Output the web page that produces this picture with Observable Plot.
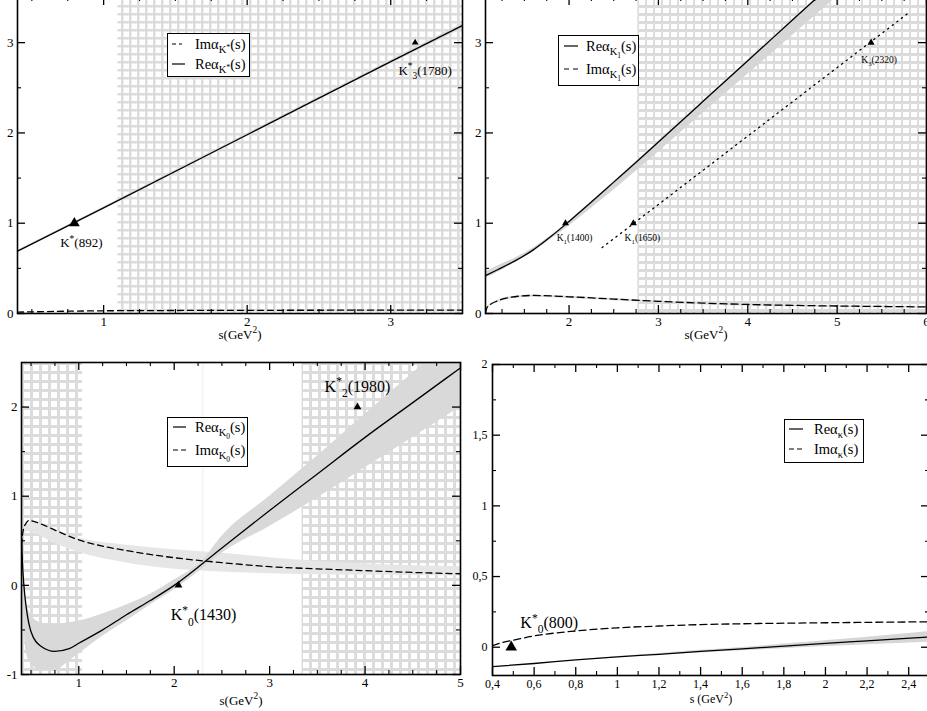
<!DOCTYPE html>
<html><head><meta charset="utf-8">
<script src="https://cdn.jsdelivr.net/npm/d3@7"></script>
<script src="https://cdn.jsdelivr.net/npm/@observablehq/plot@0.6"></script>
<style>
html,body{margin:0;padding:0;background:#fff;}
#wrap{position:relative;width:927px;height:711px;overflow:hidden;background:#fff;font-family:"Liberation Serif","DejaVu Serif",serif;}
.lg{position:absolute;border:1px solid #000;background:#fff;box-sizing:border-box;font-size:14.5px;color:#000;font-family:"Liberation Serif","DejaVu Serif",serif;}
.lg .row{position:absolute;left:0;right:0;height:16px;white-space:nowrap;}
.lg .row svg{position:absolute;top:7px;}
.lg .row span{position:absolute;top:0;line-height:16px;}
sub{font-size:0.72em;vertical-align:-0.35em;line-height:0;}
sup{font-size:0.75em;vertical-align:0.35em;line-height:0;}
</style></head>
<body><div id="wrap"></div>
<script>
// ---------- Panel 1: K* trajectory ----------
const p1S    = [0.4, 1.0, 2.0, 3.0, 3.5];
const p1Re   = [0.69, 1.17, 1.98, 2.79, 3.19];
const p1ReLo = [0.68, 1.155, 1.96, 2.765, 3.155];
const p1ReHi = [0.70, 1.18, 1.995, 2.805, 3.21];
const p1Im   = [0.015, 0.03, 0.035, 0.037, 0.038];
const p1HatchFrom = [1.1], p1HatchTo = [3.5];
const p1ResName = ["K^*(892)", "K^*_3(1780)"];
const p1ResS = [0.796, 3.17];
const p1ResA = [1, 3];

// ---------- Panel 2: K1 trajectory ----------
const p2ReS  = [1.065, 1.2, 1.4, 1.6, 1.8, 2.0, 2.25, 2.5, 2.75, 3.0, 3.5, 4.0, 4.5, 5.0];
const p2Re   = [0.42, 0.485, 0.585, 0.705, 0.855, 1.02, 1.235, 1.455, 1.675, 1.90, 2.35, 2.80, 3.25, 3.70];
const p2ReLo = [0.39, 0.455, 0.565, 0.685, 0.825, 0.97, 1.165, 1.365, 1.575, 1.79, 2.22, 2.65, 3.08, 3.51];
const p2ReHi = [0.46, 0.525, 0.615, 0.725, 0.865, 1.025, 1.24, 1.46, 1.68, 1.905, 2.355, 2.805, 3.255, 3.705];
const p2ImS  = [1.065, 1.08, 1.12, 1.2, 1.35, 1.6, 2.0, 2.5, 3.0, 3.5, 4.0, 4.5, 5.0, 5.5, 6.0];
const p2Im   = [0, 0.06, 0.10, 0.14, 0.18, 0.20, 0.185, 0.16, 0.135, 0.115, 0.10, 0.09, 0.083, 0.078, 0.073];
const p2ImLo = [0, 0.05, 0.085, 0.12, 0.16, 0.18, 0.165, 0.14, 0.115, 0.095, 0.082, 0.072, 0.066, 0.062, 0.058];
const p2ImHi = [0, 0.065, 0.105, 0.145, 0.185, 0.205, 0.19, 0.165, 0.14, 0.12, 0.105, 0.095, 0.088, 0.082, 0.077];
const p2TrajS = [2.37, 5.8];
const p2TrajA = [0.73, 3.33];
const p2HatchFrom = [2.77], p2HatchTo = [6];
const p2ResName = ["K_1(1400)", "K_1(1650)", "K_3(2320)"];
const p2ResS = [1.96, 2.72, 5.38];
const p2ResA = [1, 1, 3];

// ---------- Panel 3: K0 trajectory ----------
const p3ReS = [0.40, 0.41, 0.425, 0.45, 0.5, 0.6, 0.75, 0.9, 1.0, 1.25, 1.5, 1.75, 2.0, 2.5, 3.0, 3.5, 4.0, 4.5, 5.0];
const p3Re  = [0.55, 0.25, 0.0, -0.25, -0.52, -0.68, -0.74, -0.71, -0.65, -0.5, -0.33, -0.17, 0.0, 0.42, 0.84, 1.25, 1.66, 2.05, 2.44];
const p3ReBandS = [0.41, 0.45, 0.5, 0.6, 0.75, 0.9, 1.0, 1.25, 1.5, 1.75, 2.0, 2.3, 2.5, 3.0, 3.5, 4.0, 4.5, 5.0];
const p3ReLo = [-0.2, -0.75, -0.88, -0.95, -0.95, -0.85, -0.77, -0.57, -0.40, -0.22, -0.05, 0.19, 0.36, 0.66, 0.98, 1.32, 1.66, 2.0];
const p3ReHi = [0.3, -0.2, -0.33, -0.42, -0.44, -0.42, -0.40, -0.32, -0.22, -0.1, 0.06, 0.28, 0.55, 1.0, 1.45, 1.92, 2.38, 2.85];
const p3ImS = [0.40, 0.42, 0.45, 0.48, 0.52, 0.6, 0.75, 1.0, 1.25, 1.5, 2.0, 2.5, 3.0, 3.5, 4.0, 4.5, 5.0];
const p3Im  = [0.45, 0.63, 0.70, 0.73, 0.72, 0.69, 0.62, 0.51, 0.44, 0.39, 0.31, 0.255, 0.21, 0.185, 0.165, 0.145, 0.13];
const p3ImBandS = [0.42, 0.45, 0.5, 0.6, 0.75, 1.0, 1.5, 2.0, 2.5, 3.0, 3.5, 4.0, 4.5, 5.0];
const p3ImLo = [0.55, 0.6, 0.6, 0.55, 0.47, 0.37, 0.25, 0.18, 0.15, 0.13, 0.12, 0.115, 0.11, 0.105];
const p3ImHi = [0.62, 0.66, 0.7, 0.68, 0.62, 0.53, 0.45, 0.40, 0.36, 0.31, 0.27, 0.24, 0.22, 0.21];
const p3HatchFrom = [0.4, 3.34], p3HatchTo = [1.04, 5];
const p3Faint = [2.3];
const p3ResName = ["K^*_0(1430)", "K^*_2(1980)"];
const p3ResS = [2.045, 3.92];
const p3ResA = [0, 2];

// ---------- Panel 4: kappa trajectory ----------
const p4ReS  = [0.4, 0.6, 0.8, 1.0, 1.2, 1.4, 1.6, 1.8, 2.0, 2.2, 2.5];
const p4Re   = [-0.137, -0.115, -0.09, -0.068, -0.05, -0.03, -0.012, 0.008, 0.027, 0.045, 0.072];
const p4ReLo = [-0.137, -0.115, -0.09, -0.069, -0.055, -0.04, -0.025, -0.01, 0.005, 0.018, 0.035];
const p4ReHi = [-0.137, -0.115, -0.09, -0.066, -0.045, -0.022, -0.002, 0.022, 0.045, 0.07, 0.11];
const p4ImS  = [0.4, 0.45, 0.5, 0.6, 0.8, 1.0, 1.2, 1.4, 1.6, 1.8, 2.0, 2.2, 2.5];
const p4Im   = [0.012, 0.035, 0.05, 0.08, 0.115, 0.137, 0.15, 0.16, 0.166, 0.17, 0.173, 0.176, 0.18];
const p4ResName = ["K^*_0(800)"];
const p4ResS = [0.49];
const p4ResA = [0];

// ---------- helpers ----------
const NS = "http://www.w3.org/2000/svg";
const wrap = document.getElementById("wrap");
const idx = a => d3.range(a.length);

function richify(svg){
  svg.querySelectorAll("text").forEach(el => {
    const s = el.textContent;
    if (!/[\^_]/.test(s)) return;
    const fs = parseFloat(getComputedStyle(el).fontSize) || 13;
    const parts = []; let i = 0;
    while (i < s.length) {
      const c = s[i];
      if (c === "^" || c === "_") {
        i++; let t;
        if (s[i] === "{") { const j = s.indexOf("}", i); t = s.slice(i+1, j); i = j+1; }
        else { t = s[i]; i++; }
        parts.push({t, k: c === "^" ? "sup" : "sub"});
      } else {
        let j = i; while (j < s.length && s[j] !== "^" && s[j] !== "_") j++;
        parts.push({t: s.slice(i, j), k: null}); i = j;
      }
    }
    el.textContent = "";
    let cur = 0;
    for (const p of parts) {
      const ts = document.createElementNS(NS, "tspan");
      const target = p.k === "sup" ? -0.42*fs : p.k === "sub" ? 0.32*fs : 0;
      if (target !== cur) ts.setAttribute("dy", (target-cur).toFixed(2));
      if (p.k) ts.setAttribute("font-size", (0.72*fs).toFixed(1));
      ts.textContent = p.t;
      el.appendChild(ts); cur = target;
    }
  });
}

function band(S, lo, hi, fill){
  return Plot.areaY(idx(S), {x: i=>S[i], y1: i=>lo[i], y2: i=>hi[i], fill, curve: "monotone-x", clip: true});
}
function curveLine(S, V, dash){
  return Plot.line(idx(S), {x: i=>S[i], y: i=>V[i], stroke: "#000", strokeWidth: 1.3, strokeDasharray: dash, curve: "monotone-x", clip: true});
}
function tri(S, A, which, r){
  return Plot.dot(which, {x: i=>S[i], y: i=>A[i], symbol: "triangle", r, fill: "#000", stroke: "none"});
}
function label(S, A, N, i, dx, dy, fs){
  return Plot.text([i], {x: j=>S[j], y: j=>A[j], text: j=>N[j], dx, dy, fontSize: fs, fill: "#000"});
}

function panel(c){
  const ml = 40, mr = 12, mt = 12, mb = 42;
  const [x0, x1, y0, y1] = c.box;
  const fw = x1 - x0, fh = y1 - y0;
  const W = fw + ml + mr, H = fh + mt + mb;
  const T = 8, t = 4;
  const marks = [];
  if (c.hatch) {
    const [from, to] = c.hatch;
    marks.push(Plot.rect(idx(from), {x1: i=>from[i], x2: i=>to[i], y1: c.y[0], y2: c.y[1], fill: `url(#${c.id})`}));
  }
  marks.push(...c.marks);
  marks.push(
    Plot.frame({stroke: "#000", strokeWidth: 1.6}),
    Plot.tickX(c.xMajor, {x: d=>d, insetTop: fh-T, strokeWidth: 1.3}),
    Plot.tickX(c.xMajor, {x: d=>d, insetBottom: fh-T, strokeWidth: 1.3}),
    Plot.tickX(c.xMinor, {x: d=>d, insetTop: fh-t, strokeWidth: 1.1}),
    Plot.tickX(c.xMinor, {x: d=>d, insetBottom: fh-t, strokeWidth: 1.1}),
    Plot.tickY(c.yMajor, {y: d=>d, insetRight: fw-T, strokeWidth: 1.3}),
    Plot.tickY(c.yMajor, {y: d=>d, insetLeft: fw-T, strokeWidth: 1.3}),
    Plot.tickY(c.yMinor, {y: d=>d, insetRight: fw-t, strokeWidth: 1.1}),
    Plot.tickY(c.yMinor, {y: d=>d, insetLeft: fw-t, strokeWidth: 1.1}),
    Plot.axisX({ticks: c.xMajor, tickSize: 0, tickPadding: c.padX, fontSize: c.fs, tickFormat: c.fmt, label: null}),
    Plot.axisY({ticks: c.yMajor, tickSize: 0, tickPadding: c.padY, fontSize: c.fs, tickFormat: c.fmt, label: null}),
    Plot.text([c.xLabel], {frameAnchor: "bottom", lineAnchor: "middle", text: d=>d, dy: c.labelDy, fontSize: c.labelFs, fill: "#000"})
  );
  const svg = Plot.plot({
    width: W, height: H, marginLeft: ml, marginRight: mr, marginTop: mt, marginBottom: mb,
    x: {domain: c.x}, y: {domain: c.y},
    style: "background:transparent;font-family:'Liberation Serif','DejaVu Serif',serif;color:#000;overflow:visible;max-width:none;",
    marks
  });
  if (c.hatch) {
    const p = c.pitch, hh = c.hh, vw = c.vw;
    const defs = document.createElementNS(NS, "defs");
    defs.innerHTML = `<pattern id="${c.id}" patternUnits="userSpaceOnUse" width="${p}" height="${p}" x="${ml}" y="${mt}">
      <rect width="${p}" height="${p}" fill="#ffffff"/>
      <rect width="${p}" height="${hh}" fill="#dcdcdc"/>
      <rect width="${vw}" height="${p}" fill="#dcdcdc"/></pattern>`;
    svg.insertBefore(defs, svg.firstChild);
  }
  svg.style.position = "absolute";
  svg.style.left = (x0 - ml) + "px";
  svg.style.top = (y0 - mt) + "px";
  wrap.appendChild(svg);
  richify(svg);
  return svg;
}

function legend(left, top, w, h, rows){
  const d = document.createElement("div");
  d.className = "lg";
  Object.assign(d.style, {left: left+"px", top: top+"px", width: w+"px", height: h+"px"});
  for (const r of rows) {
    const row = document.createElement("div");
    row.className = "row";
    row.style.top = (r.cy - 8) + "px";
    row.innerHTML = `<svg width="30" height="4" style="left:${r.lx}px;top:6px"><line x1="0" x2="${r.lw}" y1="2" y2="2" stroke="#000" stroke-width="1.2" ${r.dash ? `stroke-dasharray="${r.dash}"` : ""}/></svg><span style="left:${r.tx}px">${r.html}</span>`;
    d.appendChild(row);
  }
  wrap.appendChild(d);
}

const dot = d => String(d);
const comma = d => String(d).replace(".", ",");

// ---------- Panel 1 ----------
panel({
  id: "h1", box: [17, 462, -3, 313], x: [0.4, 3.5], y: [0, 3.5],
  xMajor: [1, 2, 3], xMinor: [0.5, 0.75, 1.25, 1.5, 1.75, 2.25, 2.5, 2.75, 3.25],
  yMajor: [0, 1, 2, 3], yMinor: [0.5, 1.5, 2.5],
  fmt: dot, fs: 13, padX: 3, padY: 4, xLabel: "s(GeV^2)", labelDy: 21, labelFs: 13,
  hatch: [p1HatchFrom, p1HatchTo], pitch: 8, hh: 2.5, vw: 2.5,
  marks: [
    band(p1S, p1ReLo, p1ReHi, "#dadada"),
    curveLine(p1S, p1Im, "6,4"),
    curveLine(p1S, p1Re, null),
    tri(p1ResS, p1ResA, [0], 4),
    tri(p1ResS, p1ResA, [1], 2.5),
    label(p1ResS, p1ResA, p1ResName, 0, 7, 20, 13),
    label(p1ResS, p1ResA, p1ResName, 1, 10, 28, 13)
  ]
});

// ---------- Panel 2 ----------
panel({
  id: "h2", box: [485, 926, -3, 313], x: [1.065, 6], y: [0, 3.5],
  xMajor: [2, 3, 4, 5, 6], xMinor: [1.25, 1.5, 1.75, 2.25, 2.5, 2.75, 3.25, 3.5, 3.75, 4.25, 4.5, 4.75, 5.25, 5.5, 5.75],
  yMajor: [0, 1, 2, 3], yMinor: [0.5, 1.5, 2.5],
  fmt: dot, fs: 13, padX: 3, padY: 4, xLabel: "s(GeV^2)", labelDy: 21, labelFs: 13,
  hatch: [p2HatchFrom, p2HatchTo], pitch: 8, hh: 3, vw: 2,
  marks: [
    band(p2ReS, p2ReLo, p2ReHi, "#d6d6d6"),
    band(p2ImS, p2ImLo, p2ImHi, "#dedede"),
    curveLine(p2ImS, p2Im, "7,4"),
    curveLine(p2ReS, p2Re, null),
    Plot.line(idx(p2TrajS), {x: i=>p2TrajS[i], y: i=>p2TrajA[i], stroke: "#000", strokeWidth: 1.3, strokeDasharray: "1.3,4.5", strokeLinecap: "round"}),
    tri(p2ResS, p2ResA, [0, 1, 2], 2.6),
    label(p2ResS, p2ResA, p2ResName, 0, 9, 15, 9.5),
    label(p2ResS, p2ResA, p2ResName, 1, 9, 15, 9.5),
    label(p2ResS, p2ResA, p2ResName, 2, 8, 17, 9.5)
  ]
});

// ---------- Panel 3 ----------
panel({
  id: "h3", box: [21, 460, 362, 674], x: [0.4, 5], y: [-1, 2.5],
  xMajor: [1, 2, 3, 4, 5], xMinor: [0.5, 0.75, 1.25, 1.5, 1.75, 2.25, 2.5, 2.75, 3.25, 3.5, 3.75, 4.25, 4.5, 4.75],
  yMajor: [-1, 0, 1, 2], yMinor: [-0.5, 0.5, 1.5],
  fmt: dot, fs: 13, padX: 3, padY: 4, xLabel: "s(GeV^2)", labelDy: 26, labelFs: 13,
  hatch: [p3HatchFrom, p3HatchTo], pitch: 9, hh: 3, vw: 3,
  marks: [
    Plot.ruleX(p3Faint, {x: d=>d, stroke: "#eeeeee", strokeWidth: 1}),
    band(p3ImBandS, p3ImLo, p3ImHi, "#e6e6e6"),
    band(p3ReBandS, p3ReLo, p3ReHi, "#d9d9d9"),
    curveLine(p3ImS, p3Im, "6,4"),
    curveLine(p3ReS, p3Re, null),
    tri(p3ResS, p3ResA, [0, 1], 2.9),
    label(p3ResS, p3ResA, p3ResName, 0, 25, 30, 16),
    label(p3ResS, p3ResA, p3ResName, 1, 0, -20, 16)
  ]
});

// ---------- Panel 4 ----------
panel({
  id: "h4", box: [492, 929, 364, 675], x: [0.4, 2.5], y: [-0.2, 2],
  xMajor: [0.4, 0.6, 0.8, 1, 1.2, 1.4, 1.6, 1.8, 2, 2.2, 2.4],
  xMinor: [0.5, 0.7, 0.9, 1.1, 1.3, 1.5, 1.7, 1.9, 2.1, 2.3],
  yMajor: [0, 0.5, 1, 1.5, 2], yMinor: [0.25, 0.75, 1.25, 1.75],
  fmt: comma, fs: 12, padX: 4, padY: 5, xLabel: "s (GeV^2)", labelDy: 24, labelFs: 12,
  hatch: null,
  marks: [
    band(p4ReS, p4ReLo, p4ReHi, "#d6d6d6"),
    curveLine(p4ImS, p4Im, "7,4"),
    curveLine(p4ReS, p4Re, null),
    tri(p4ResS, p4ResA, [0], 4.3),
    label(p4ResS, p4ResA, p4ResName, 0, 38, -24, 16)
  ]
});

// ---------- Legends ----------
legend(167, 33, 83, 44, [
  {cy: 10, lx: 4, lw: 10, dash: "4,3", tx: 27, html: "Imα<sub>K<sup>*</sup></sub>(s)"},
  {cy: 30, lx: 4, lw: 13, dash: null,  tx: 27, html: "Reα<sub>K<sup>*</sup></sub>(s)"}
]);
legend(558, 35, 81, 51, [
  {cy: 10, lx: 5, lw: 14, dash: null,  tx: 27, html: "Reα<sub>K<sub>1</sub></sub>(s)"},
  {cy: 33, lx: 5, lw: 14, dash: "5,4", tx: 27, html: "Imα<sub>K<sub>1</sub></sub>(s)"}
]);
legend(167, 417, 81, 50, [
  {cy: 9,  lx: 5, lw: 13, dash: null,  tx: 27, html: "Reα<sub>K<sub>0</sub></sub>(s)"},
  {cy: 32, lx: 5, lw: 13, dash: "5,3", tx: 27, html: "Imα<sub>K<sub>0</sub></sub>(s)"}
]);
legend(784, 419, 80, 44, [
  {cy: 9,  lx: 4, lw: 14, dash: null,  tx: 29, html: "Reα<sub>κ</sub>(s)"},
  {cy: 29, lx: 4, lw: 14, dash: "5,3", tx: 29, html: "Imα<sub>κ</sub>(s)"}
]);
</script>
</body></html>
